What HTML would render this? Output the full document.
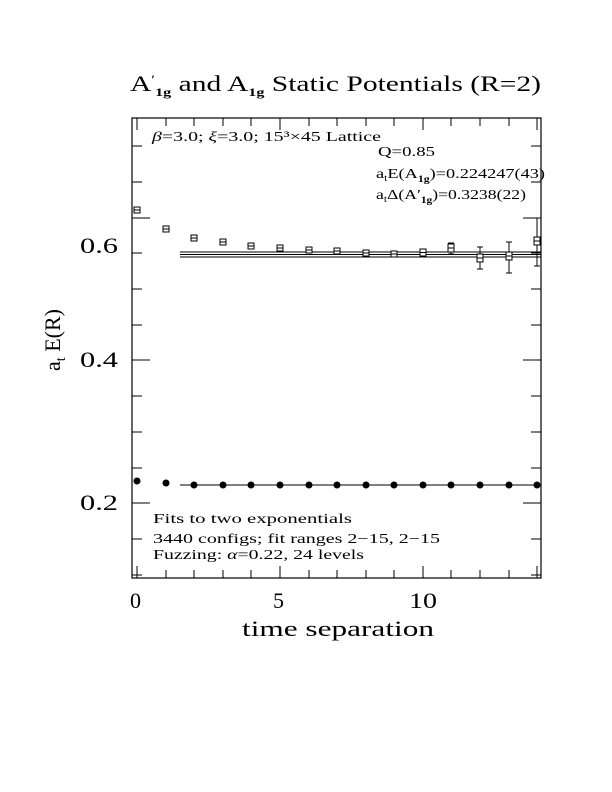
<!DOCTYPE html>
<html><head><meta charset="utf-8"><style>
html,body{margin:0;padding:0;background:#fff}
svg{display:block}
text{font-family:"Liberation Serif","DejaVu Serif",serif;fill:#000}
</style></head><body>
<svg width="612" height="792" viewBox="0 0 612 792" xmlns="http://www.w3.org/2000/svg">
<text x="130" y="91" font-size="22" textLength="411" lengthAdjust="spacingAndGlyphs">A<tspan font-size="13" dy="-7">′</tspan><tspan font-size="12" dy="12" font-weight="bold">1g</tspan><tspan dy="-5"> and A</tspan><tspan font-size="12" dy="5" font-weight="bold">1g</tspan><tspan dy="-5"> Static Potentials (R=2)</tspan></text>
<rect x="132" y="118" width="409" height="460" fill="none" stroke="#000" stroke-width="1.2"/>
<g stroke="#000" stroke-width="1">
<path d="M137,118v12M137,578v-12M166,118v8M166,578v-8M194,118v8M194,578v-8M223,118v8M223,578v-8M251,118v8M251,578v-8M280,118v12M280,578v-12M309,118v8M309,578v-8M337,118v8M337,578v-8M366,118v8M366,578v-8M394,118v8M394,578v-8M423,118v12M423,578v-12M451,118v8M451,578v-8M480,118v8M480,578v-8M509,118v8M509,578v-8M537,118v12M537,578v-12"/>
<path d="M132,146h10M541,146h-10M132,182h10M541,182h-10M132,218h18M541,218h-18M132,253h10M541,253h-10M132,289h10M541,289h-10M132,325h10M541,325h-10M132,360h18M541,360h-18M132,396h10M541,396h-10M132,432h10M541,432h-10M132,468h10M541,468h-10M132,503h18M541,503h-18M132,539h10M541,539h-10M132,575h10M541,575h-10"/>
</g>
<text x="80" y="253" font-size="22" textLength="38" lengthAdjust="spacingAndGlyphs">0.6</text>
<text x="80" y="367" font-size="22" textLength="38" lengthAdjust="spacingAndGlyphs">0.4</text>
<text x="80" y="510" font-size="22" textLength="38" lengthAdjust="spacingAndGlyphs">0.2</text>
<text x="130" y="608" font-size="22">0</text>
<text x="273" y="608" font-size="22">5</text>
<text x="409" y="608" font-size="22" textLength="28" lengthAdjust="spacingAndGlyphs">10</text>
<text x="242" y="636" font-size="22" textLength="192" lengthAdjust="spacingAndGlyphs">time separation</text>
<text transform="translate(60,340) rotate(-90)" font-size="22" text-anchor="middle">a<tspan font-size="14" dy="5">t</tspan><tspan dy="-5"> E(R)</tspan></text>
<text x="152" y="141" font-size="14" textLength="229" lengthAdjust="spacingAndGlyphs"><tspan font-style="italic">β</tspan>=3.0; <tspan font-style="italic">ξ</tspan>=3.0; 15³×45 Lattice</text>
<text x="378" y="156" font-size="14" textLength="57" lengthAdjust="spacingAndGlyphs">Q=0.85</text>
<text x="376" y="178" font-size="14" textLength="169" lengthAdjust="spacingAndGlyphs">a<tspan font-size="9" dy="3">t</tspan><tspan dy="-3">E(A</tspan><tspan font-size="9" dy="4" font-weight="bold">1g</tspan><tspan dy="-4">)=0.224247(43)</tspan></text>
<text x="376" y="199" font-size="14" textLength="150" lengthAdjust="spacingAndGlyphs">a<tspan font-size="9" dy="3">t</tspan><tspan dy="-3">Δ(A′</tspan><tspan font-size="9" dy="4" font-weight="bold">1g</tspan><tspan dy="-4">)=0.3238(22)</tspan></text>
<text x="153" y="523" font-size="14" textLength="199" lengthAdjust="spacingAndGlyphs">Fits to two exponentials</text>
<text x="153" y="543" font-size="14" textLength="287" lengthAdjust="spacingAndGlyphs">3440 configs; fit ranges 2−15, 2−15</text>
<text x="153" y="559" font-size="14" textLength="211" lengthAdjust="spacingAndGlyphs">Fuzzing: <tspan font-style="italic">α</tspan>=0.22, 24 levels</text>
<g stroke="#000" stroke-width="1" fill="none">
<path d="M180,252H541M180,254.5H541M180,257H541"/>
<path d="M180,485H541"/>
<path d="M451,243v11M448,243h6M448,254h6M480,247v22M477,247h6M477,269h6M509,242v31M506,242h6M506,273h6M537,218v48M534,218h6M534,266h6"/>
</g>
<g stroke="#000" stroke-width="1" fill="#fff">
<rect x="134" y="207" width="6" height="6"/><rect x="163" y="226" width="6" height="6"/>
<rect x="191" y="235" width="6" height="6"/><rect x="220" y="239" width="6" height="6"/>
<rect x="248" y="243" width="6" height="6"/><rect x="277" y="245" width="6" height="6"/>
<rect x="306" y="247" width="6" height="6"/><rect x="334" y="248" width="6" height="6"/>
<rect x="363" y="250" width="6" height="6"/><rect x="391" y="251" width="6" height="6"/>
<rect x="420" y="249" width="6" height="7"/><rect x="448" y="244" width="6" height="8"/>
<rect x="477" y="254" width="6" height="8"/><rect x="506" y="252" width="6" height="8"/>
<rect x="534" y="237" width="6" height="8"/>
</g>
<g stroke="#000" stroke-width="1">
<path d="M134,210h6M163,229h6M191,238h6M220,242h6M248,246h6M277,248h6M306,250h6M334,251h6M363,253h6M391,254h6M420,252.5h6M448,248h6M477,258h6M506,256h6M534,241h6"/>
</g>
<g fill="#000">
<circle cx="137" cy="481" r="3.5"/><circle cx="166" cy="483" r="3.5"/>
<circle cx="194" cy="485" r="3.5"/><circle cx="223" cy="485" r="3.5"/>
<circle cx="251" cy="485" r="3.5"/><circle cx="280" cy="485" r="3.5"/>
<circle cx="309" cy="485" r="3.5"/><circle cx="337" cy="485" r="3.5"/>
<circle cx="366" cy="485" r="3.5"/><circle cx="394" cy="485" r="3.5"/>
<circle cx="423" cy="485" r="3.5"/><circle cx="451" cy="485" r="3.5"/>
<circle cx="480" cy="485" r="3.5"/><circle cx="509" cy="485" r="3.5"/>
<circle cx="537" cy="485" r="3.5"/>
</g>
</svg>
</body></html>
